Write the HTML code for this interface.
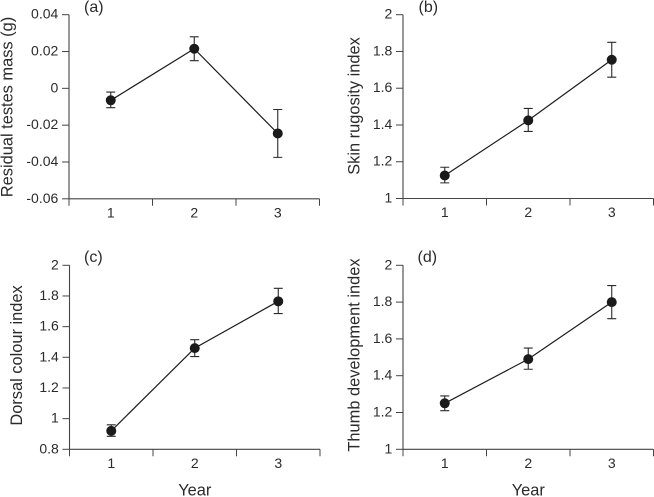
<!DOCTYPE html>
<html>
<head>
<meta charset="utf-8">
<style>
html,body{margin:0;padding:0;background:#fff;width:654px;height:497px;overflow:hidden}
svg{display:block;filter:blur(0.3px)}
text{font-family:"Liberation Sans",Arial,sans-serif;fill:#2b2b2b}
</style>
</head>
<body>
<svg id="chart" width="654" height="497" viewBox="0 0 654 497" xmlns="http://www.w3.org/2000/svg"></svg>
<script>
const years = [1, 2, 3];

const ticksA = [-0.06, -0.04, -0.02, 0, 0.02, 0.04];
const valuesA = [-0.0065, 0.0215, -0.0245];
const lowerA = [-0.0105, 0.015, -0.0375];
const upperA = [-0.002, 0.028, -0.0115];

const ticksB = [1, 1.2, 1.4, 1.6, 1.8, 2];
const valuesB = [1.125, 1.425, 1.755];
const lowerB = [1.085, 1.365, 1.66];
const upperB = [1.17, 1.49, 1.85];

const ticksC = [0.8, 1, 1.2, 1.4, 1.6, 1.8, 2];
const valuesC = [0.92, 1.46, 1.765];
const lowerC = [0.885, 1.405, 1.685];
const upperC = [0.96, 1.515, 1.85];

const ticksD = [1, 1.2, 1.4, 1.6, 1.8, 2];
const valuesD = [1.25, 1.49, 1.80];
const lowerD = [1.21, 1.435, 1.71];
const upperD = [1.29, 1.55, 1.89];

const svg = document.getElementById('chart');
const NS = 'http://www.w3.org/2000/svg';

function add(tag, attrs, parent, text) {
  const el = document.createElementNS(NS, tag);
  for (const k in attrs) el.setAttribute(k, attrs[k]);
  if (text !== undefined) el.textContent = text;
  parent.appendChild(el);
  return el;
}

function drawPanel(p) {
  const g = add('g', {}, svg);
  
  

  const yMin = p.ticks[0];
  const yMax = p.ticks[p.ticks.length - 1];
  const yScale = v => p.bottom + (v - yMin) / (yMax - yMin) * (p.top - p.bottom);
  const band = (p.right - p.left) / years.length;
  const xScale = i => p.left + band * (i + 0.5);
  const axisColor = '#444';

  const yAxis = add('line', {x1: p.left, x2: p.left, y1: p.top, y2: p.bottom, stroke: axisColor, 'stroke-width': 1.1}, g);
  
  

  const xAxis = add('line', {x1: p.left, x2: p.right, y1: p.bottom, y2: p.bottom, stroke: axisColor, 'stroke-width': 1.1}, g);
  
  

  p.ticks.forEach(t => {
    const y = yScale(t);
    const tick = add('line', {x1: p.left - 7, x2: p.left, y1: y, y2: y, stroke: axisColor, 'stroke-width': 1}, g);
    
    
    const label = add('text', {x: p.left - 10.7, y: y + 4, 'text-anchor': 'end', 'font-size': 14}, g, String(t));
    
    
  });

  for (let i = 0; i <= years.length; i++) {
    const x = p.left + band * i;
    const tick = add('line', {x1: x, x2: x, y1: p.bottom, y2: p.bottom + 7, stroke: axisColor, 'stroke-width': 1}, g);
    
    
  }
  years.forEach((yr, i) => {
    const label = add('text', {x: xScale(i), y: p.bottom + 18.5, 'text-anchor': 'middle', 'font-size': 14}, g, String(yr));
    
    
  });

  const pts = p.values.map((v, i) => xScale(i) + ',' + yScale(v)).join(' ');
  const line = add('polyline', {points: pts, fill: 'none', stroke: '#1c1c1c', 'stroke-width': 1.2}, g);
  
  

  p.values.forEach((v, i) => {
    const x = xScale(i);
    const yl = yScale(p.lower[i]);
    const yu = yScale(p.upper[i]);
    const bar = add('path', {
      d: 'M' + (x - 4.5) + ' ' + yu + 'H' + (x + 4.5) + 'M' + x + ' ' + yu + 'V' + yl + 'M' + (x - 4.5) + ' ' + yl + 'H' + (x + 4.5),
      fill: 'none', stroke: '#2a2a2a', 'stroke-width': 1.1
    }, g);
    
    
    const dot = add('circle', {cx: x, cy: yScale(v), r: 5, fill: '#1a1a1a'}, g);
    
    
  });

  const yTitle = add('text', {
    transform: 'translate(' + p.titleX + ',' + p.titleY + ') rotate(-90)',
    'text-anchor': 'middle', 'font-size': 16.4
  }, g, p.title);
  
  

  const tag = add('text', {x: p.tagX, y: p.tagY, 'font-size': 16}, g, '(' + p.id + ')');
  
  

  if (p.xTitle) {
    const xTitle = add('text', {x: xScale(1), y: 495.5, 'text-anchor': 'middle', 'font-size': 16.4}, g, p.xTitle);
    
    
  }
}

drawPanel({id: 'a', ticks: ticksA, values: valuesA, lower: lowerA, upper: upperA,
  left: 69, right: 319.5, top: 14.7, bottom: 198.8,
  title: 'Residual testes mass (g)', titleX: 12.5, titleY: 107, tagX: 84, tagY: 12});
drawPanel({id: 'b', ticks: ticksB, values: valuesB, lower: lowerB, upper: upperB,
  left: 403, right: 653.5, top: 14.7, bottom: 198.5,
  title: 'Skin rugosity index', titleX: 359.5, titleY: 106, tagX: 418.5, tagY: 12});
drawPanel({id: 'c', ticks: ticksC, values: valuesC, lower: lowerC, upper: upperC,
  left: 69.5, right: 320, top: 265.3, bottom: 449.3,
  title: 'Dorsal colour index', titleX: 22, titleY: 355.5, tagX: 84, tagY: 262, xTitle: 'Year'});
drawPanel({id: 'd', ticks: ticksD, values: valuesD, lower: lowerD, upper: upperD,
  left: 403, right: 653.5, top: 265.3, bottom: 449.3,
  title: 'Thumb development index', titleX: 359.5, titleY: 355, tagX: 417.5, tagY: 262, xTitle: 'Year'});
</script>
</body>
</html>
